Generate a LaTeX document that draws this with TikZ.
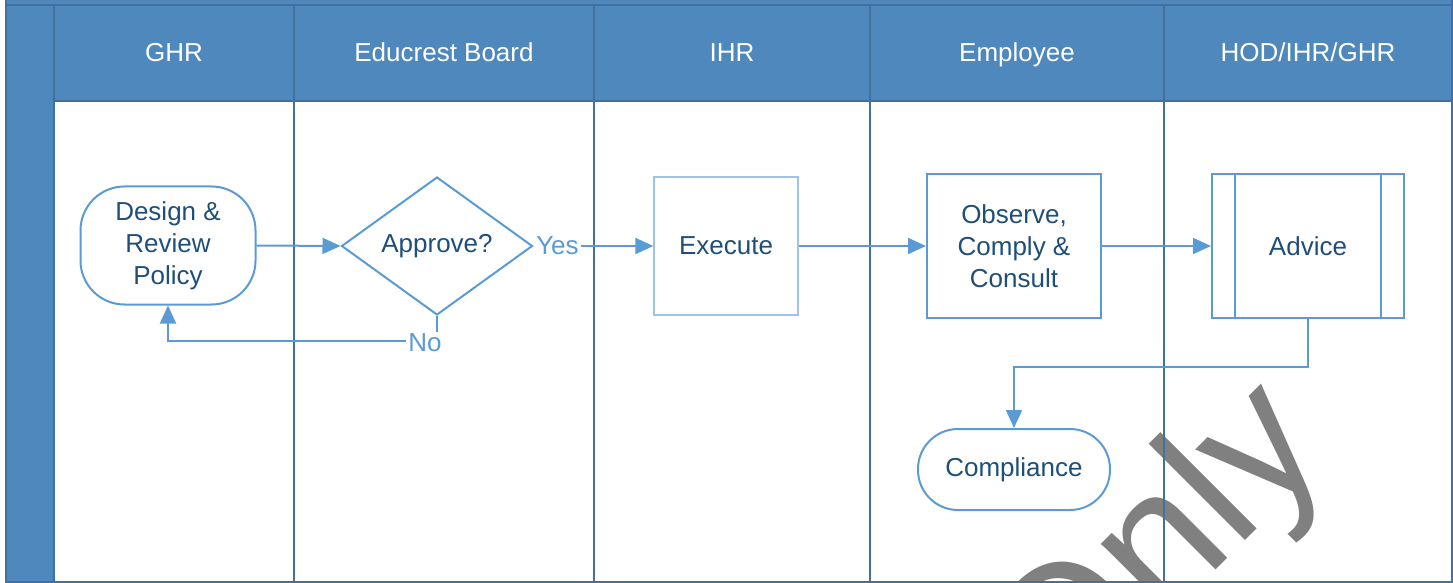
\documentclass[tikz,border=0pt]{standalone}
\usepackage{fontspec}
\setmainfont{Liberation Sans}
\usetikzlibrary{shapes.geometric,arrows.meta,calc}
\definecolor{hdr}{HTML}{4F88BC}
\definecolor{frm}{HTML}{41719C}
\definecolor{nln}{HTML}{5B9BD5}
\definecolor{ntx}{HTML}{1F4E79}
\definecolor{lgt}{HTML}{9DC3E6}
\definecolor{wmk}{HTML}{808080}
\tikzset{
  lanetitle/.style={font=\fontsize{13}{16}\selectfont, text=white, inner sep=0pt, anchor=base},
  framelines/.style={draw=frm, line width=1pt},
  box/.style={draw=nln, line width=1pt, text=ntx, font=\fontsize{13}{16}\selectfont, align=center, inner sep=0pt},
  arr/.style={draw=nln, line width=1pt, -{Triangle[length=9pt,width=8pt]}},
  lbl/.style={text=nln, font=\fontsize{13}{16}\selectfont, inner sep=1pt, fill=white}
}
\begin{document}
\begin{tikzpicture}[x=0.5pt,y=-0.5pt]
\useasboundingbox (0,0) rectangle (1453,583);
% backgrounds
\fill[hdr] (6,0) rectangle (1451.5,101);
\fill[hdr] (6,0) rectangle (54,581.5);
% watermark
\begin{scope}
\clip (0,0) rectangle (1453,583);
\node[text=wmk, font=\fontsize{94}{94}\selectfont, rotate=45, inner sep=0pt] (wm) at (1161,556) {Only};
\end{scope}
% frame and lanes
\draw[framelines] (6,0) -- (6,581.5) -- (1451.5,581.5) -- (1451.5,0);
\draw[framelines] (6,5.5) -- (1451.5,5.5);
\draw[framelines] (54,101) -- (1451.5,101);
\foreach \x in {54,294,594,870,1164}{
  \draw[framelines] (\x,5.5) -- (\x,581.5);
}
% lane titles
\node[lanetitle] (h1) at (174,61.5) {GHR};
\node[lanetitle] (h2) at (444,61.5) {Educrest Board};
\node[lanetitle] (h3) at (732,61.5) {IHR};
\node[lanetitle] (h4) at (1017,61.5) {Employee};
\node[lanetitle] (h5) at (1308,61.5) {HOD/IHR/GHR};
% nodes
\node[box, rounded corners=22pt, minimum width=87.5pt, minimum height=59pt] (pol) at (168,245.5) {Design \&\\Review\\Policy};
\node[box, diamond, minimum width=95.5pt, minimum height=69pt] (dia) at (437,246) {Approve?};
\node[box, draw=lgt, line width=0.7pt, minimum width=72pt, minimum height=69pt] (exe) at (726,246) {Execute};
\node[box, minimum width=87pt, minimum height=72pt] (obs) at (1014,246) {Observe,\\Comply \&\\Consult};
\node[box, minimum width=96pt, minimum height=72pt] (adv) at (1308,246) {Advice};
\draw[nln, line width=1pt] ([xshift=12pt]adv.north west) -- ([xshift=12pt]adv.south west);
\draw[nln, line width=1pt] ([xshift=-12pt]adv.north east) -- ([xshift=-12pt]adv.south east);
\node[box, rounded corners=20pt, minimum width=96pt, minimum height=40.5pt] (cmp) at (1014,469.5) {Compliance};
% connectors
\draw[arr] (pol.east) -- (dia.west);
\draw[arr] (dia.east) -- (exe.west) node[lbl, pos=0.2] (yes) {Yes};
\draw[arr] (exe.east) -- (obs.west);
\draw[arr] (obs.east) -- (adv.west);
\draw[arr] (dia.south) -- ++(0,25) -| (pol.south);
\node[lbl] (no) at (425,343) {No};
\draw[arr] (adv.south) -- ++(0,48) -| (cmp.north);
\end{tikzpicture}
\end{document}
